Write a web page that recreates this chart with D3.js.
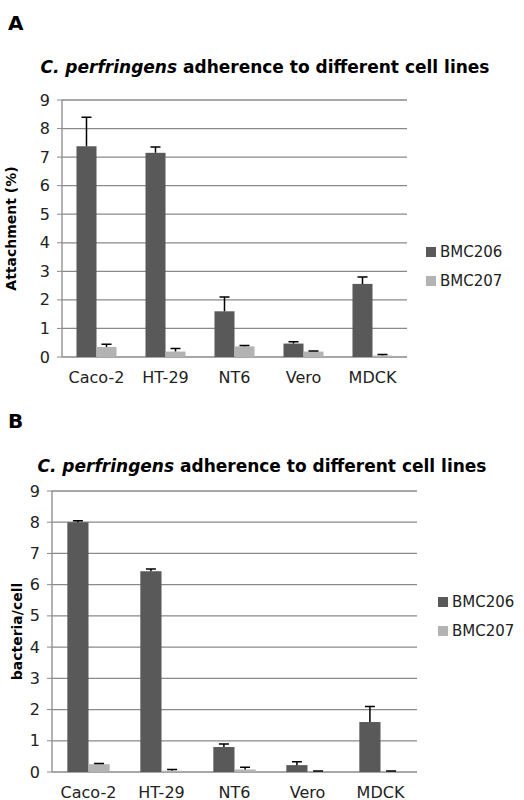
<!DOCTYPE html><html><head><meta charset="utf-8"><script src="https://cdn.jsdelivr.net/npm/d3@7"></script>
<style>body{margin:0;background:#fff}text{font-family:"DejaVu Sans",sans-serif}</style></head><body><svg id="c" width="524" height="800"></svg>
<script>
const categories=["Caco-2","HT-29","NT6","Vero","MDCK"];
const seriesNames=["BMC206","BMC207"];
const ticks=[0,1,2,3,4,5,6,7,8,9];
const aBMC206=[7.38,7.15,1.6,0.47,2.56], aBMC206err=[1.02,0.2,0.5,0.06,0.24];
const aBMC207=[0.35,0.19,0.37,0.19,0.05], aBMC207err=[0.1,0.11,0.03,0.02,0.04];
const bBMC206=[8.0,6.43,0.8,0.22,1.6], bBMC206err=[0.05,0.07,0.1,0.11,0.5];
const bBMC207=[0.25,0.04,0.08,0.01,0.02], bBMC207err=[0.02,0.04,0.07,0.02,0.01];
const colors=["#595959","#b3b3b3"];
const svg=d3.select("#c");
function panel(o){
  const g=svg.append("g");
  g.append("text").attr("x",o.lx).attr("y",o.ly).attr("font-size",20).attr("font-weight","bold").text(o.letter);
  const t=g.append("text").attr("x",o.tx).attr("y",o.ty).attr("text-anchor","middle").attr("font-size",17).attr("font-weight","bold");
  t.append("tspan").attr("font-style","italic").text("C. perfringens");
  t.append("tspan").text(o.title);
  const x=d3.scaleBand().domain(categories).range([o.x0,o.x1]).paddingInner(0.42).paddingOuter(0.21);
  const y=d3.scaleLinear().domain([0,9]).range([o.y0,o.y1]);
  g.append("g").selectAll("line").data(ticks).join("line").attr("x1",o.x0).attr("x2",o.x1).attr("y1",d=>y(d)).attr("y2",d=>y(d)).attr("stroke","#8a8a8a").attr("stroke-width",1.3);
  g.append("line").attr("x1",o.x0).attr("x2",o.x0).attr("y1",o.y0).attr("y2",o.y1).attr("stroke","#8a8a8a").attr("stroke-width",1.3);
  g.append("g").selectAll("line").data(ticks).join("line").attr("x1",o.x0-5).attr("x2",o.x0).attr("y1",d=>y(d)).attr("y2",d=>y(d)).attr("stroke","#8a8a8a");
  g.append("g").selectAll("text").data(ticks).join("text").attr("x",o.x0-12).attr("y",d=>y(d)).attr("dy","0.35em").attr("text-anchor","end").attr("font-size",16).attr("fill","#222").text(d=>d);
  g.append("g").selectAll("text").data(categories).join("text").attr("x",d=>x(d)+x.bandwidth()/2).attr("y",o.y0+26).attr("text-anchor","middle").attr("font-size",16).attr("fill","#222").text(d=>d);
  const bw=x.bandwidth()/2;
  o.series.forEach((s,si)=>{
    const gg=g.append("g");
    gg.selectAll("rect").data(categories).join("rect").attr("x",d=>x(d)+si*bw).attr("width",bw).attr("y",(d,i)=>y(s.v[i])).attr("height",(d,i)=>o.y0-y(s.v[i])).attr("fill",colors[si]);
    gg.selectAll("path").data(categories).join("path").attr("d",(d,i)=>{const cx=x(d)+si*bw+bw/2,t=y(s.v[i]+s.e[i]);return `M${cx},${y(s.v[i])}V${t}M${cx-5},${t}H${cx+5}`;}).attr("stroke","#000").attr("stroke-width",1.5).attr("fill","none");
  });
  g.append("text").attr("transform",`translate(${o.ylx},${(o.y0+o.y1)/2}) rotate(-90)`).attr("text-anchor","middle").attr("font-size",14).attr("font-weight","bold").text(o.ylabel);
  seriesNames.forEach((n,i)=>{
    g.append("rect").attr("x",o.legx).attr("y",o.legy+i*29-5).attr("width",10).attr("height",10).attr("fill",colors[i]);
    g.append("text").attr("x",o.legx+14).attr("y",o.legy+i*29).attr("dy","0.35em").attr("font-size",15).attr("fill","#222").text(n);
  });
}
panel({letter:"A",lx:8,ly:30,tx:265,ty:73,title:" adherence to different  cell lines",x0:62,x1:407,y0:357,y1:100,ylx:16,ylabel:"Attachment (%)",series:[{v:aBMC206,e:aBMC206err},{v:aBMC207,e:aBMC207err}],legx:426,legy:252});
panel({letter:"B",lx:8,ly:428,tx:262,ty:472,title:" adherence to different cell lines",x0:52,x1:417,y0:772,y1:491,ylx:22,ylabel:"bacteria/cell",series:[{v:bBMC206,e:bBMC206err},{v:bBMC207,e:bBMC207err}],legx:438,legy:602});
</script></body></html>
